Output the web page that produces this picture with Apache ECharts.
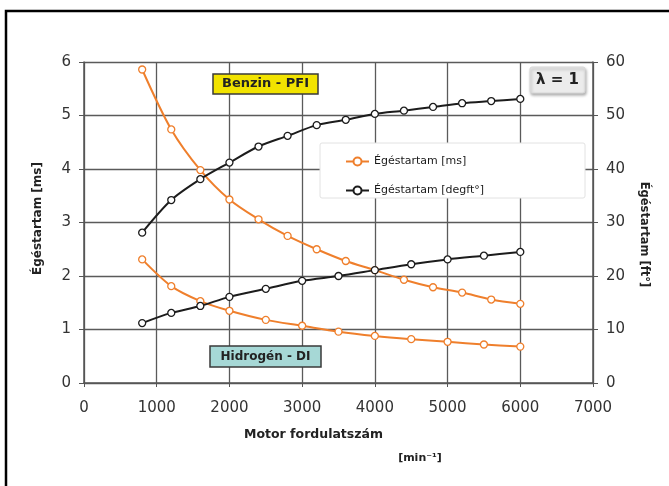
<!DOCTYPE html>
<html>
<head>
<meta charset="utf-8">
<script src="https://cdn.jsdelivr.net/npm/echarts@6/dist/echarts.min.js"></script>
<style>
html,body{margin:0;padding:0;background:#fff;}
#chart{width:669px;height:486px;}
</style>
</head>
<body>
<div id="chart"></div>
<script>
// ---- data ----
const xTicks = [0, 1000, 2000, 3000, 4000, 5000, 6000, 7000];
const leftTicks = [0, 1, 2, 3, 4, 5, 6];
const rightTicks = [0, 10, 20, 30, 40, 50, 60];

const rpmBenzin = [800, 1200, 1600, 2000, 2400, 2800, 3200, 3600, 4000, 4400, 4800, 5200, 5600, 6000];
const benzinMs  = [5.86, 4.74, 3.98, 3.43, 3.06, 2.75, 2.50, 2.28, 2.11, 1.93, 1.79, 1.69, 1.56, 1.48];
const benzinDeg = [28.1, 34.2, 38.1, 41.2, 44.2, 46.2, 48.2, 49.2, 50.3, 50.9, 51.6, 52.3, 52.7, 53.1];

const rpmH2 = [800, 1200, 1600, 2000, 2500, 3000, 3500, 4000, 4500, 5000, 5500, 6000];
const h2Ms  = [2.31, 1.81, 1.53, 1.35, 1.18, 1.07, 0.96, 0.88, 0.82, 0.77, 0.72, 0.68];
const h2Deg = [11.2, 13.1, 14.4, 16.1, 17.6, 19.1, 20.0, 21.1, 22.2, 23.1, 23.8, 24.5];

const nameMs = 'Égéstartam [ms]';
const nameDeg = 'Égéstartam [degft°]';

// ---- chart ----
const FONT = '"DejaVu Sans", "Liberation Sans", Arial, sans-serif';
const ORANGE = '#ef7f2c';
const BLACK = '#1c1c1c';
const GRID = '#5a5a5a';

function pairs(xs, ys) { return xs.map((x, i) => [x, ys[i]]); }

function lineSeries(name, color, yAxisIndex, data) {
  return {
    name: name, type: 'line', yAxisIndex: yAxisIndex, data: data,
    smooth: 0.3, symbol: 'circle', symbolSize: 7,
    lineStyle: { color: color, width: 2 },
    itemStyle: { color: '#fff', borderColor: color, borderWidth: 1.3 },
    z: 6
  };
}

const chart = echarts.init(document.getElementById('chart'), null, { renderer: 'canvas' });
chart.setOption({
  animation: false,
  backgroundColor: '#fff',
  textStyle: { fontFamily: FONT },
  grid: { left: 84, top: 62, right: 76, bottom: 103, containLabel: false },
  legend: {
    orient: 'vertical', left: 340, top: 151,
    data: [
      { name: nameMs, itemStyle: { color: '#fff', borderColor: ORANGE }, lineStyle: { color: ORANGE } },
      { name: nameDeg, itemStyle: { color: '#fff', borderColor: BLACK }, lineStyle: { color: BLACK } }
    ],
    itemWidth: 23, itemHeight: 10, itemGap: 18,
    textStyle: { fontFamily: FONT, fontSize: 11, color: '#1a1a1a' },
    z: 10
  },
  xAxis: {
    type: 'value', min: xTicks[0], max: xTicks[xTicks.length - 1], interval: 1000,
    name: 'Motor fordulatszám', nameLocation: 'middle', nameGap: 45,
    nameTextStyle: { fontFamily: FONT, fontSize: 12.5, fontWeight: 'bold', color: '#222', padding: [0, 50, 0, 0] },
    axisLine: { show: true, lineStyle: { color: '#555', width: 1.5 } },
    axisTick: { show: true, length: 4, lineStyle: { color: '#555' } },
    axisLabel: { fontFamily: FONT, fontSize: 15, color: '#333', margin: 18, formatter: (v) => String(v) },
    splitLine: { show: true, lineStyle: { color: GRID, width: 1.3 } }
  },
  yAxis: [
    {
      type: 'value', min: leftTicks[0], max: leftTicks[leftTicks.length - 1], interval: 1,
      position: 'left',
      name: nameMs, nameLocation: 'middle', nameGap: 40, nameRotate: 90,
      nameTextStyle: { fontFamily: FONT, fontSize: 12, fontWeight: 'bold', color: '#222', padding: [0, 0, 0, 8] },
      axisLine: { show: true, lineStyle: { color: '#555', width: 1.5 } },
      axisTick: { show: true, length: 5, lineStyle: { color: '#555' } },
      axisLabel: { fontFamily: FONT, fontSize: 15, color: '#333', margin: 13 },
      splitLine: { show: true, lineStyle: { color: GRID, width: 1.3 } }
    },
    {
      type: 'value', min: rightTicks[0], max: rightTicks[rightTicks.length - 1], interval: 10,
      position: 'right',
      name: 'Égéstartam [ft°]', nameLocation: 'middle', nameGap: 45, nameRotate: -90,
      nameTextStyle: { fontFamily: FONT, fontSize: 11.5, fontWeight: 'bold', color: '#222', padding: [0, 0, 0, 24] },
      axisLine: { show: true, lineStyle: { color: '#555', width: 1.5 } },
      axisTick: { show: true, length: 5, lineStyle: { color: '#555' } },
      axisLabel: { fontFamily: FONT, fontSize: 15, color: '#333', margin: 13 },
      splitLine: { show: false }
    }
  ],
  series: [
    lineSeries(nameMs, ORANGE, 0, pairs(rpmBenzin, benzinMs)),
    lineSeries(nameDeg, BLACK, 1, pairs(rpmBenzin, benzinDeg)),
    lineSeries(nameMs, ORANGE, 0, pairs(rpmH2, h2Ms)),
    lineSeries(nameDeg, BLACK, 1, pairs(rpmH2, h2Deg))
  ],
  graphic: [
    { type: 'rect', shape: { x: 6, y: 11, width: 700, height: 500 },
      style: { fill: 'none', stroke: '#000', lineWidth: 2.5 }, z: 20, silent: true },
    { type: 'rect', shape: { x: 320, y: 143, width: 265, height: 55, r: 2 },
      style: { fill: '#fff', stroke: '#e2e2e2', lineWidth: 1 }, z: 3 },
    { type: 'rect', shape: { x: 213, y: 74, width: 105, height: 20 },
      style: { fill: '#f2e300', stroke: '#3a3a3a', lineWidth: 1.5 }, z: 8 },
    { type: 'text', x: 265.5, y: 84, z: 9,
      style: { text: 'Benzin - PFI', font: 'bold 13px ' + FONT, fill: '#222', align: 'center', verticalAlign: 'middle' } },
    { type: 'rect', shape: { x: 210, y: 346, width: 111, height: 21 },
      style: { fill: '#a6d8d6', stroke: '#3a3a3a', lineWidth: 1.5 }, z: 8 },
    { type: 'text', x: 265.5, y: 356.5, z: 9,
      style: { text: 'Hidrogén - DI', font: 'bold 12px ' + FONT, fill: '#222', align: 'center', verticalAlign: 'middle' } },
    { type: 'rect', shape: { x: 530, y: 67, width: 55, height: 26, r: 2 },
      style: { fill: '#ececec', stroke: '#d8d8d8', lineWidth: 1, shadowBlur: 3, shadowOffsetX: 1, shadowOffsetY: 2, shadowColor: 'rgba(0,0,0,0.3)' }, z: 8 },
    { type: 'text', x: 557.5, y: 80, z: 9,
      style: { text: 'λ = 1', font: 'bold 15px ' + FONT, fill: '#222', align: 'center', verticalAlign: 'middle' } },
    { type: 'text', x: 420, y: 458, z: 9,
      style: { text: '[min⁻¹]', font: 'bold 11px ' + FONT, fill: '#222', align: 'center', verticalAlign: 'middle' } }
  ]
});
</script>
</body>
</html>
